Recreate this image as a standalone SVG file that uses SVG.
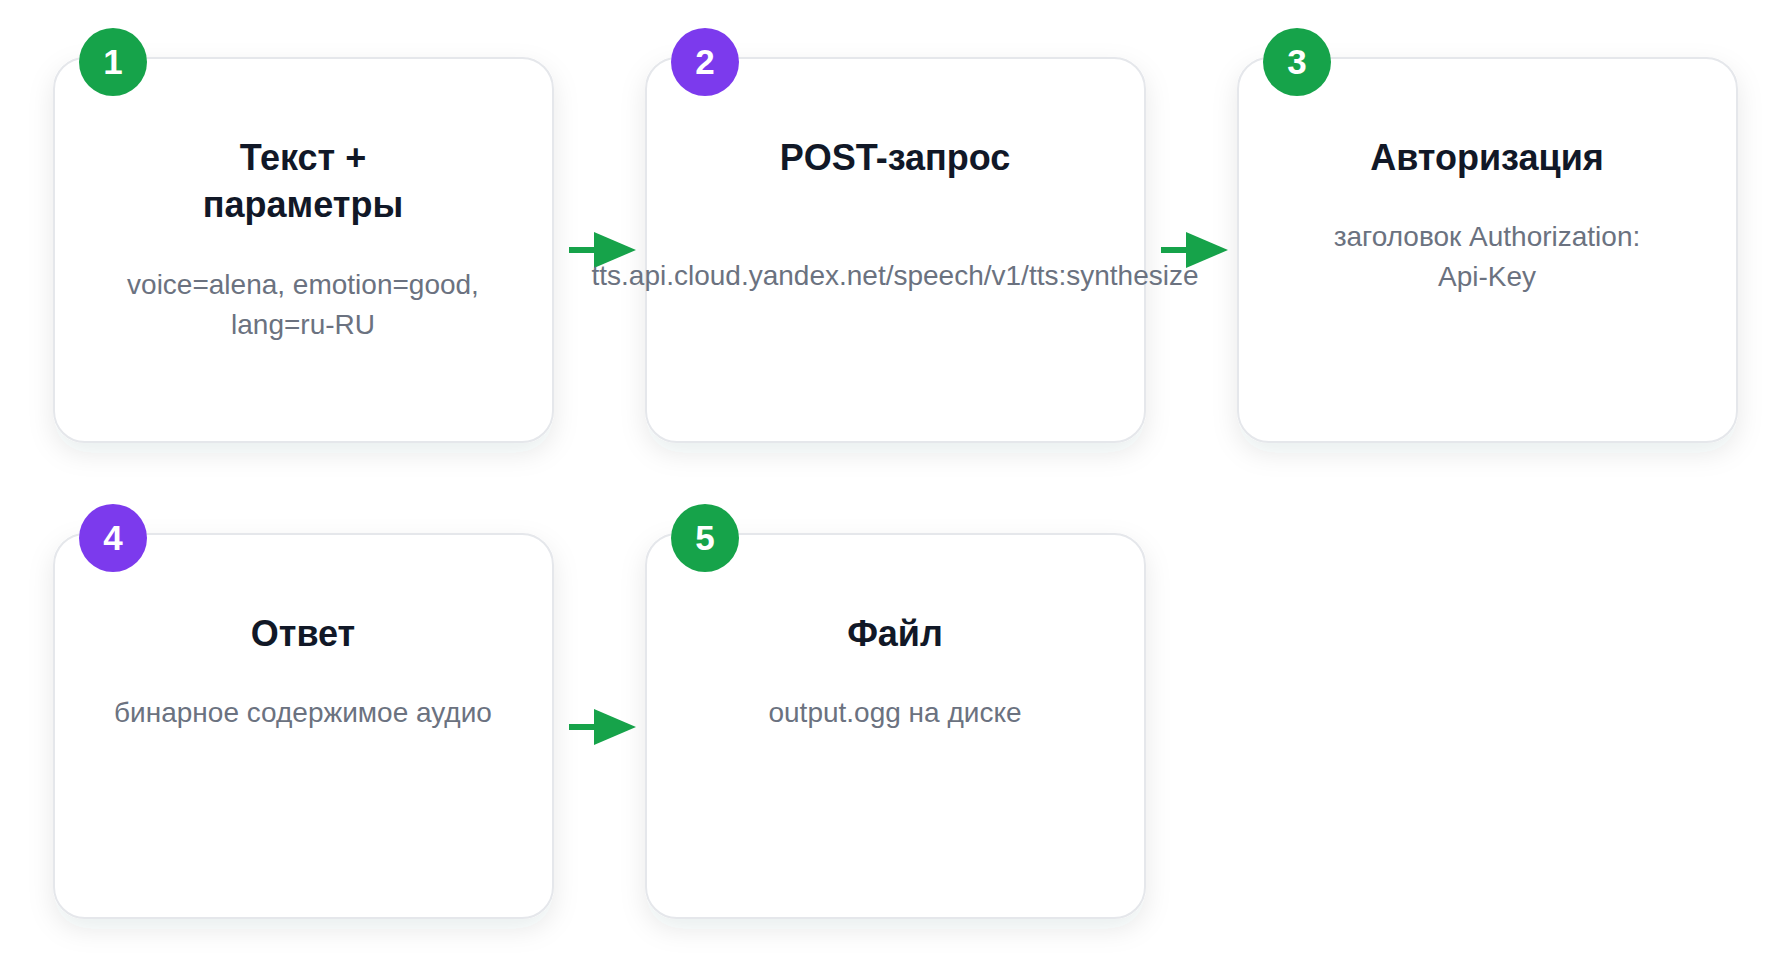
<svg xmlns="http://www.w3.org/2000/svg" width="1790" height="977" viewBox="0 0 1790 977">
<defs>
<filter id="sh" x="-20%" y="-20%" width="140%" height="150%">
<feDropShadow dx="0" dy="10" stdDeviation="13" flood-color="#1f2937" flood-opacity="0.09"/>
</filter>
<marker id="ah" markerWidth="7" markerHeight="6" refX="0" refY="3" orient="auto" markerUnits="strokeWidth">
<path d="M0,0 L7,3 L0,6 Z" fill="#16a34a"/>
</marker>
</defs>
<style>
.card{fill:#ffffff;stroke:#e5e7eb;stroke-width:2;filter:url(#sh)}
.title{font-family:"Liberation Sans",Arial,sans-serif;font-weight:bold;font-size:36px;fill:#111827;text-anchor:middle}
.sub{font-family:"Liberation Sans",Arial,sans-serif;font-size:28px;fill:#6b7280;text-anchor:middle}
.num{font-family:"Liberation Sans",Arial,sans-serif;font-weight:bold;font-size:35px;fill:#ffffff;text-anchor:middle}
.g{fill:#16a34a}
.p{fill:#7c3aed}
.conn{stroke:#16a34a;stroke-width:6;fill:none;marker-end:url(#ah)}
</style>
<rect width="1790" height="977" fill="#ffffff"/>
<g id="connectors">
<line class="conn" x1="569" y1="250" x2="594" y2="250"/>
<line class="conn" x1="1161" y1="250" x2="1186" y2="250"/>
<line class="conn" x1="569" y1="727" x2="594" y2="727"/>
</g>
<g id="node1">
<rect class="card" x="54" y="58" width="499" height="384" rx="31"/>
<circle class="g" cx="113" cy="62" r="34"/>
<text class="num" x="113" y="74">1</text>
<text class="title" x="303" y="170">Текст +</text>
<text class="title" x="303" y="217">параметры</text>
<text class="sub" x="303" y="294">voice=alena, emotion=good,</text>
<text class="sub" x="303" y="334">lang=ru-RU</text>
</g>
<g id="node2">
<rect class="card" x="646" y="58" width="499" height="384" rx="31"/>
<circle class="p" cx="705" cy="62" r="34"/>
<text class="num" x="705" y="74">2</text>
<text class="title" x="895" y="170">POST-запрос</text>
<text class="sub" x="895" y="285">tts.api.cloud.yandex.net/speech/v1/tts:synthesize</text>
</g>
<g id="node3">
<rect class="card" x="1238" y="58" width="499" height="384" rx="31"/>
<circle class="g" cx="1297" cy="62" r="34"/>
<text class="num" x="1297" y="74">3</text>
<text class="title" x="1487" y="170">Авторизация</text>
<text class="sub" x="1487" y="246">заголовок Authorization:</text>
<text class="sub" x="1487" y="286">Api-Key</text>
</g>
<g id="node4">
<rect class="card" x="54" y="534" width="499" height="384" rx="31"/>
<circle class="p" cx="113" cy="538" r="34"/>
<text class="num" x="113" y="550">4</text>
<text class="title" x="303" y="646">Ответ</text>
<text class="sub" x="303" y="722">бинарное содержимое аудио</text>
</g>
<g id="node5">
<rect class="card" x="646" y="534" width="499" height="384" rx="31"/>
<circle class="g" cx="705" cy="538" r="34"/>
<text class="num" x="705" y="550">5</text>
<text class="title" x="895" y="646">Файл</text>
<text class="sub" x="895" y="722">output.ogg на диске</text>
</g>
</svg>
